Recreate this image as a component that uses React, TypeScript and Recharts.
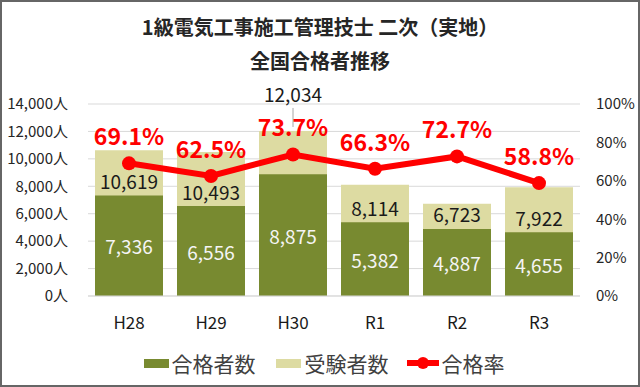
import React from 'react';
import { ComposedChart, Bar, Line, XAxis, YAxis, CartesianGrid, Legend, LabelList } from 'recharts';

const categories = ['H28', 'H29', 'H30', 'R1', 'R2', 'R3'];
const passers = [7336, 6556, 8875, 5382, 4887, 4655];
const examinees = [10619, 10493, 12034, 8114, 6723, 7922];
const passRates = [0.691, 0.625, 0.737, 0.663, 0.727, 0.588];
const leftTicks = [0, 2000, 4000, 6000, 8000, 10000, 12000, 14000];
const rightTicks = [0, 0.2, 0.4, 0.6, 0.8, 1];

const titleLines = ['1級電気工事施工管理技士 二次（実地）', '全国合格者推移'];
const seriesNames = ['合格者数', '受験者数', '合格率'];

const data = categories.map((c, i) => ({
  name: c,
  passers: passers[i],
  examinees: examinees[i],
  rate: passRates[i],
}));

const FONT = "'Noto Sans CJK JP', 'Noto Sans', sans-serif";
const DARK = '#788A30';
const LIGHT = '#DDDBA2';
const RED = '#FF0000';

const fmt = (v: number) => v.toLocaleString('en-US');

const ExamLabel = (props: any) => {
  const x = Number(props.x);
  const y = Number(props.y);
  const width = Number(props.width);
  const height = Number(props.height);
  const value = Number(props.value);
  const index = props.index as number;
  const cx = x + width / 2;
  const maxVal = Math.max(...examinees);
  if (value === maxVal) {
    return (
      <g>
        <line x1={cx} x2={cx} y1={y - 23} y2={y - 4} stroke="#A6A6A6" strokeWidth={1} />
        <text x={cx} y={y - 37} textAnchor="middle" dominantBaseline="central" fontSize={19} fontFamily={FONT} fill="#1a1a1a">
          {fmt(value)}
        </text>
      </g>
    );
  }
  const darkTop = y + height * (1 - passers[index] / value);
  return (
    <text x={cx} y={darkTop - 15} textAnchor="middle" dominantBaseline="central" fontSize={19} fontFamily={FONT} fill="#1a1a1a">
      {fmt(value)}
    </text>
  );
};

const PassLabel = (props: any) => {
  const x = Number(props.x);
  const y = Number(props.y);
  const width = Number(props.width);
  const height = Number(props.height);
  return (
    <text x={x + width / 2} y={y + height / 2} textAnchor="middle" dominantBaseline="central" fontSize={19} fontFamily={FONT} fill="#F5F5F5">
      {fmt(Number(props.value))}
    </text>
  );
};

const RateLabel = (props: any) => {
  const x = Number(props.x);
  const y = Number(props.y);
  return (
    <text x={x} y={y - 28} textAnchor="middle" dominantBaseline="central" fontSize={23} fontWeight="bold" fontFamily={FONT} fill={RED}>
      {(Number(props.value) * 100).toFixed(1) + '%'}
    </text>
  );
};

const LegendContent = () => (
  <div
    style={{
      display: 'flex',
      justifyContent: 'center',
      alignItems: 'center',
      height: 32,
      fontFamily: FONT,
      fontSize: 21,
      color: '#404040',
      paddingLeft: 8,
      boxSizing: 'border-box',
    }}
  >
    <span style={{ display: 'flex', alignItems: 'center', marginRight: 20 }}>
      <span style={{ width: 25, height: 9, background: DARK, marginRight: 3, display: 'inline-block' }} />
      {seriesNames[0]}
    </span>
    <span style={{ display: 'flex', alignItems: 'center', marginRight: 18 }}>
      <span style={{ width: 25, height: 9, background: LIGHT, marginRight: 4, display: 'inline-block' }} />
      {seriesNames[1]}
    </span>
    <span style={{ display: 'flex', alignItems: 'center' }}>
      <svg width={32} height={16} style={{ marginRight: 3 }}>
        <line x1={0} x2={32} y1={8} y2={8} stroke={RED} strokeWidth={6} />
        <circle cx={16} cy={8} r={6} fill={RED} />
      </svg>
      {seriesNames[2]}
    </span>
  </div>
);

export default function App() {
  return (
    <div style={{ position: 'absolute', left: 0, top: 0, width: 640, height: 387, background: '#fff', overflow: 'hidden' }}>
      <ComposedChart
        width={640}
        height={387}
        data={data}
        margin={{ top: 104, right: 0, left: 0, bottom: 8 }}
        barSize={68}
        barGap={-68}
      >
        <CartesianGrid yAxisId="left" vertical={false} stroke="#D9D9D9" />
        <XAxis
          dataKey="name"
          height={51}
          axisLine={{ stroke: '#D9D9D9' }}
          tickLine={false}
          tickSize={0}
          tickMargin={21}
          tick={{ fill: '#1a1a1a', fontSize: 17, fontFamily: FONT }}
        />
        <YAxis
          yAxisId="left"
          orientation="left"
          width={88}
          domain={[0, 14000]}
          ticks={leftTicks}
          interval={0}
          axisLine={false}
          tickLine={false}
          tickSize={0}
          tickMargin={20}
          tickFormatter={(v: number) => fmt(v) + '人'}
          tick={{ fill: '#262626', fontSize: 15, fontFamily: FONT }}
        />
        <YAxis
          yAxisId="right"
          orientation="right"
          width={60}
          domain={[0, 1]}
          ticks={rightTicks}
          interval={0}
          axisLine={false}
          tickLine={false}
          tickSize={0}
          tickMargin={16}
          tickFormatter={(v: number) => Math.round(v * 100) + '%'}
          tick={{ fill: '#262626', fontSize: 15, fontFamily: FONT }}
        />
        <Legend verticalAlign="bottom" content={LegendContent} />
        <Bar yAxisId="left" dataKey="examinees" name={seriesNames[1]} fill={LIGHT} isAnimationActive={false}>
          <LabelList dataKey="examinees" content={ExamLabel} />
        </Bar>
        <Bar yAxisId="left" dataKey="passers" name={seriesNames[0]} fill={DARK} isAnimationActive={false}>
          <LabelList dataKey="passers" content={PassLabel} />
        </Bar>
        <Line
          yAxisId="right"
          dataKey="rate"
          name={seriesNames[2]}
          stroke={RED}
          strokeWidth={6}
          dot={{ r: 7, fill: RED, stroke: RED, strokeWidth: 0 }}
          activeDot={false}
          isAnimationActive={false}
        >
          <LabelList dataKey="rate" content={RateLabel} />
        </Line>
      </ComposedChart>
      <div
        style={{
          position: 'absolute',
          left: 0,
          top: 10,
          width: 640,
          textAlign: 'center',
          fontFamily: FONT,
          fontWeight: 'bold',
          fontSize: 20,
          lineHeight: '34px',
          color: '#262626',
          pointerEvents: 'none',
        }}
      >
        <div>{titleLines[0]}</div>
        <div>{titleLines[1]}</div>
      </div>
      <div
        style={{
          position: 'absolute',
          left: 0,
          top: 0,
          width: 640,
          height: 387,
          border: '2px solid #666666',
          boxSizing: 'border-box',
          pointerEvents: 'none',
        }}
      />
    </div>
  );
}
